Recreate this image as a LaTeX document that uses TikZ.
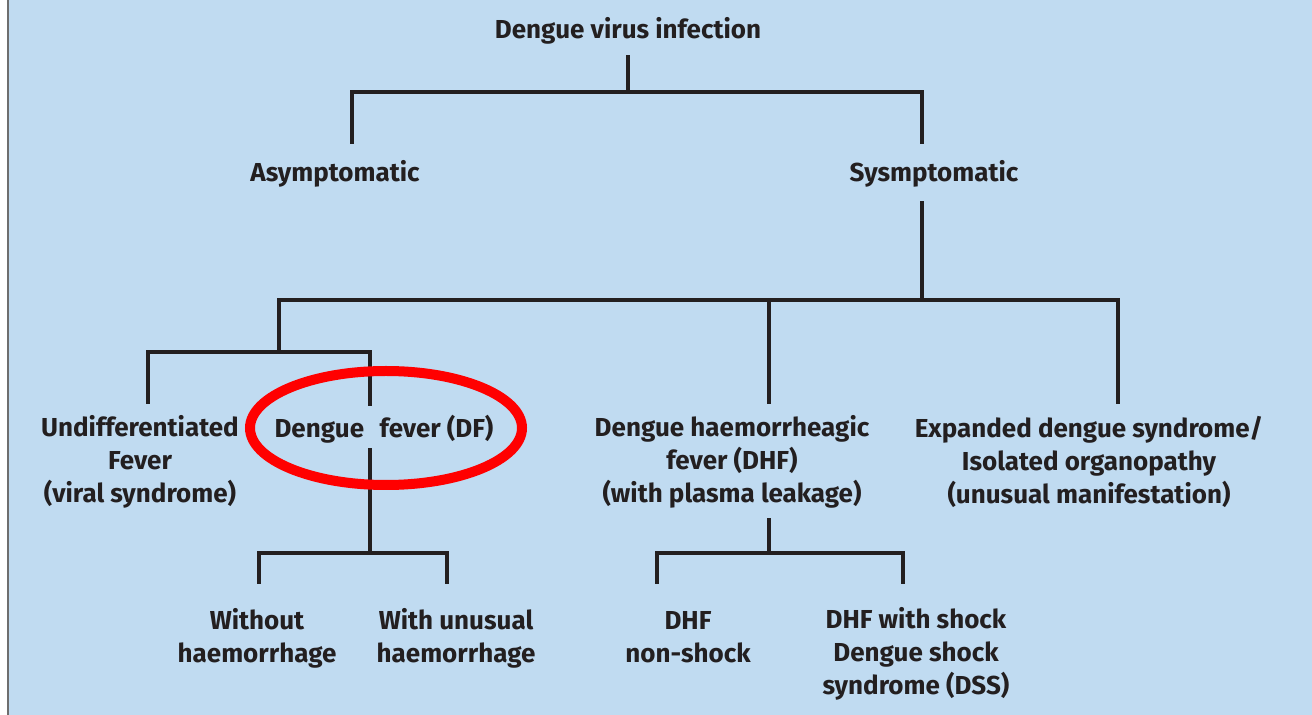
\documentclass[tikz,border=0pt]{standalone}
\usepackage{fontspec}
\setmainfont{Fira Sans}
\definecolor{bgblue}{RGB}{192,219,241}
\definecolor{ink}{RGB}{35,31,32}
\definecolor{edgegrey}{RGB}{110,110,110}
\begin{document}
\begin{tikzpicture}[x=0.5pt,y=-0.5pt,
  lbl/.style={font=\bfseries\fontsize{13}{16.5}\selectfont, text=ink, align=center, inner sep=0pt},
  tree/.style={draw=ink, line width=2pt, line cap=rect, line join=miter},
  mark ring/.style={draw=red, line width=5pt}]
\useasboundingbox (0,0) rectangle (1312,715);
\fill[white] (0,0) rectangle (1312,715);
\fill[bgblue] (8,0) rectangle (1312,715);
\draw[edgegrey, line width=0.8pt] (7.8,0) -- (7.8,715);

% nodes
\node[lbl] (root) at (628,31) {Dengue virus infection};
\node[lbl] (asym) at (335,174) {Asymptomatic};
\node[lbl] (sym) at (934,174) {Sysmptomatic};
\node[lbl] (undiff) at (140,462) {Undifferentiated\\Fever\\(viral syndrome)};
\node[lbl] (df) at (384,429) {Dengue\hspace{0.6em}fever (DF)};
\node[lbl] (dhf) at (732,462) {Dengue haemorrheagic\\fever (DHF)\\(with plasma leakage)};
\node[lbl] (eds) at (1089,462) {Expanded dengue syndrome/\\Isolated organopathy\\(unusual manifestation)};
\node[lbl] (wo) at (257,638) {Without\\haemorrhage};
\node[lbl] (wu) at (456,638) {With unusual\\haemorrhage};
\node[lbl] (ns) at (688,637) {DHF\\non-shock};
\node[lbl] (dss) at (916,654) {DHF with shock\\Dengue shock\\syndrome (DSS)};

% junction coordinates
\coordinate (r0) at (628,57);
\coordinate (r1) at (628,92);
\coordinate (a0) at (352,92);
\coordinate (a1) at (352,142);
\coordinate (s0) at (922,92);
\coordinate (s1) at (922,142);
\coordinate (s2) at (922,203);
\coordinate (s3) at (922,300);
\coordinate (b0) at (279,300);
\coordinate (b1) at (279,352);
\coordinate (h0) at (769,300);
\coordinate (h1) at (769,402);
\coordinate (e0) at (1118,300);
\coordinate (e1) at (1118,402);
\coordinate (u0) at (148,352);
\coordinate (u1) at (148,402);
\coordinate (d0) at (370,352);
\coordinate (d1) at (370,404);
\coordinate (d2) at (370,450);
\coordinate (d3) at (370,553);
\coordinate (w0) at (259,553);
\coordinate (w1) at (259,582);
\coordinate (x0) at (447,553);
\coordinate (x1) at (447,582);
\coordinate (k0) at (769,520);
\coordinate (k1) at (769,553);
\coordinate (n0) at (657,553);
\coordinate (n1) at (657,582);
\coordinate (q0) at (903,553);
\coordinate (q1) at (903,582);

% connectors
\draw[tree] (r0) -- (r1);
\draw[tree] (a1) -- (a0) -- (s0) -- (s1);
\draw[tree] (s2) -- (s3);
\draw[tree] (b1) -- (b0) -- (e0) -- (e1);
\draw[tree] (h0) -- (h1);
\draw[tree] (u1) -- (u0) -- (d0) -- (d1);
\draw[tree] (d2) -- (d3);
\draw[tree] (w1) -- (w0) -- (x0) -- (x1);
\draw[tree] (k0) -- (k1);
\draw[tree] (n1) -- (n0) -- (q0) -- (q1);

% red highlight ring
\draw[mark ring] (386,428) ellipse [x radius=136, y radius=57];
\end{tikzpicture}
\end{document}
